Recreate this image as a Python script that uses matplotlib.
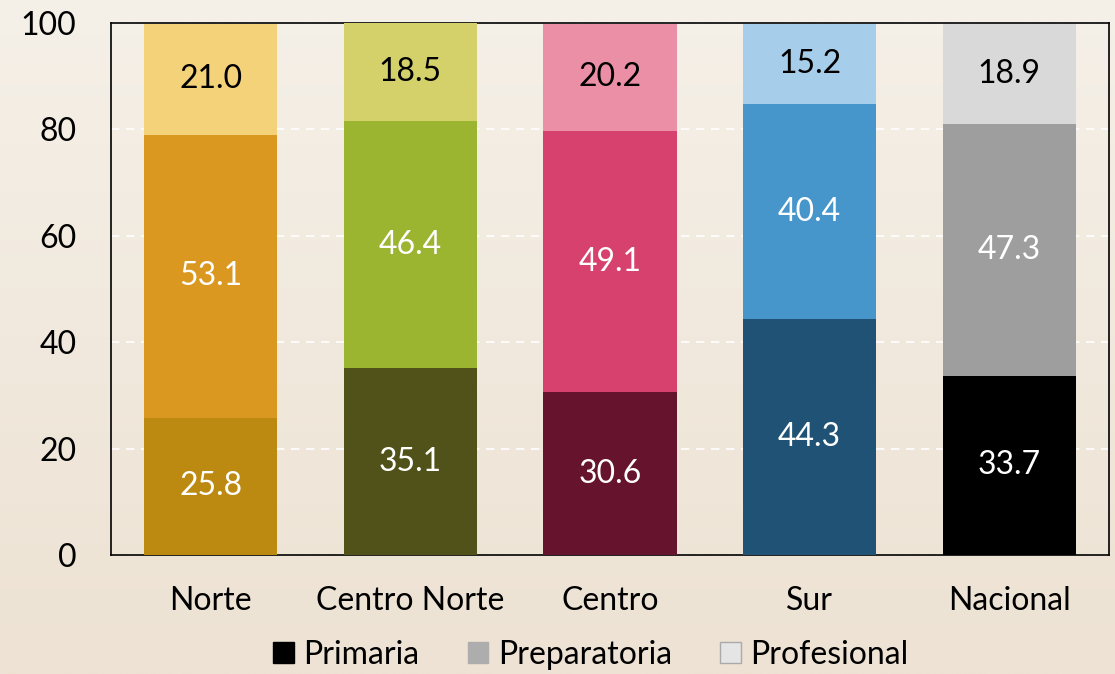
import numpy as np
import matplotlib
matplotlib.use("Agg")
import matplotlib.pyplot as plt
from matplotlib.patches import Patch

categories = ["Norte", "Centro Norte", "Centro", "Sur", "Nacional"]
primaria = [25.8, 35.1, 30.6, 44.3, 33.7]
preparatoria = [53.1, 46.4, 49.1, 40.4, 47.3]
profesional = [21.0, 18.5, 20.2, 15.2, 18.9]
series_names = ["Primaria", "Preparatoria", "Profesional"]

colors_primaria = ["#BC8A10", "#515219", "#66132E", "#1F5275", "#000000"]
colors_preparatoria = ["#DA9820", "#9CB531", "#D6426D", "#4696CC", "#9E9E9E"]
colors_profesional = ["#F4D27A", "#D4D06A", "#EB8FA6", "#A6CDEA", "#D9D9D9"]

plt.rcParams['font.family'] = ['Lato', 'DejaVu Sans']
FS = 23

fig = plt.figure(figsize=(11.15, 6.74), dpi=100)

# gradient background
bg = fig.add_axes([0, 0, 1, 1], zorder=-10)
top_c = np.array([0xF5, 0xF0, 0xE8]) / 255
bot_c = np.array([0xED, 0xE2, 0xD3]) / 255
t = np.linspace(0, 1, 256)[:, None]
grad = top_c[None, :] * (1 - t) + bot_c[None, :] * t
bg.imshow(grad[:, None, :].repeat(2, axis=1), aspect='auto', extent=[0, 1, 0, 1])
bg.set_axis_off()

ax = fig.add_axes([0.0996, 0.1766, 0.895, 0.7893])
ax.set_facecolor('none')

x = np.arange(len(categories))
w = 0.667
ax.bar(x, primaria, w, color=colors_primaria, zorder=3)
ax.bar(x, preparatoria, w, bottom=primaria, color=colors_preparatoria, zorder=3)
bottom3 = [a + b for a, b in zip(primaria, preparatoria)]
ax.bar(x, profesional, w, bottom=bottom3, color=colors_profesional, zorder=3)

for i in range(len(categories)):
    ax.text(x[i], primaria[i] / 2, f"{primaria[i]:.1f}", ha='center', va='center',
            color='white', fontsize=FS, zorder=4)
    ax.text(x[i], primaria[i] + preparatoria[i] / 2, f"{preparatoria[i]:.1f}", ha='center',
            va='center', color='white', fontsize=FS, zorder=4)
    ax.text(x[i], bottom3[i] + profesional[i] / 2, f"{profesional[i]:.1f}", ha='center',
            va='center', color='black', fontsize=FS, zorder=4)

ax.set_ylim(0, 100)
ax.set_xlim(-0.5, len(categories) - 0.5)
ax.set_yticks([0, 20, 40, 60, 80, 100])
ax.set_xticks(x)
ax.set_xticklabels(categories)
ax.tick_params(axis='both', length=0, labelsize=FS)
ax.tick_params(axis='x', pad=22)
ax.tick_params(axis='y', pad=25)
ax.yaxis.grid(True, color='white', linestyle=(0, (5, 4)), linewidth=1.2, zorder=1)
for s in ax.spines.values():
    s.set_color('black')
    s.set_linewidth(1.2)

handles = [Patch(facecolor='#000000', edgecolor='#000000'),
           Patch(facecolor='#ADADAD', edgecolor='#ADADAD'),
           Patch(facecolor='#E5E5E5', edgecolor='#AAAAAA')]
fig.legend(handles, series_names, loc='lower center', bbox_to_anchor=(0.53, -0.022),
           ncol=3, frameon=False, fontsize=FS, handlelength=0.65, handleheight=0.65,
           handletextpad=0.3, columnspacing=1.5, borderpad=0.1)

fig.savefig("out.png", dpi=100)
